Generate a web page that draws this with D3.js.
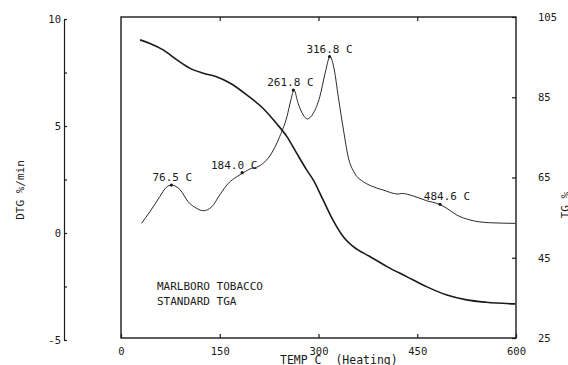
<!DOCTYPE html>
<html lang="en">
<head>
<meta charset="utf-8">
<title>Marlboro tobacco TGA</title>
<script src="https://cdn.jsdelivr.net/npm/d3@7"></script>
<style>
  body { margin: 0; background: #fff; }
  text { font-family: "DejaVu Sans Mono", monospace; fill: #1a1a1a; }
</style>
</head>
<body>
<div id="chart"></div>
<script>
// DTG curve (thin line), temperature in C and rate in %/min
var dtgTemp = [31, 44, 59, 69, 77, 90, 102, 115, 125, 138, 150, 163, 176, 186, 198, 206, 216, 226,
               241, 252, 258, 262.8, 269, 277, 283, 292, 302, 310, 317.5, 324, 330, 338, 345, 355,
               368, 380, 398, 421, 426, 444, 464, 483.5, 495, 510, 530, 560, 599];
var dtgVal  = [0.45, 1.0, 1.7, 2.14, 2.24, 2.01, 1.46, 1.15, 1.04, 1.23, 1.78, 2.32, 2.63, 2.82, 3.02, 3.07, 3.26, 3.6,
               4.5, 5.43, 6.21, 6.68, 6.06, 5.51, 5.33, 5.59, 6.37, 7.46, 8.24, 7.62, 6.37, 4.81, 3.57, 2.79,
               2.4, 2.2, 2.01, 1.82, 1.85, 1.73, 1.51, 1.34, 1.15, 0.84, 0.61, 0.48, 0.45];

// TG curve (thick line), weight %
var tgTemp = [29, 44, 64, 85, 105, 125, 145, 166, 191, 216, 236, 252, 267, 282, 292, 307, 322,
              338, 353, 378, 404, 434, 464, 495, 525, 555, 599];
var tgVal  = [99.3, 98.4, 96.8, 94.3, 92.2, 91.0, 90.1, 88.5, 85.6, 82.2, 78.5, 75.2, 71.0, 66.9, 64.4, 59.4, 54.4,
              50.2, 47.75, 45.3, 42.8, 40.3, 37.8, 35.7, 34.5, 33.9, 33.5];

// marked peaks on the DTG curve
var peakTemp  = [76.5, 184.0, 261.8, 316.8, 484.6];
var peakVal   = [2.24, 2.82, 6.68, 8.24, 1.34];
var peakLabel = ["76.5 C", "184.0 C", "261.8 C", "316.8 C", "484.6 C"];

var xTicks   = [0, 150, 300, 450, 600];
var dtgTicks = [-5, -2.5, 0, 2.5, 5, 7.5, 10];
var tgTicks  = [25, 45, 65, 85, 105];
var notes    = ["MARLBORO TOBACCO", "STANDARD TGA"];

var w = 568, h = 365;
var boxLeft = 121, boxRight = 516, boxTop = 17, boxBottom = 338;

var svg = d3.select("#chart").append("svg")
    .attr("width", w)
    .attr("height", h);

var x = d3.scaleLinear().domain([0, 600]).range([boxLeft, boxRight]);
var yDtg = d3.scaleLinear().domain([-5, 10]).range([340, 19]);
var yTg = d3.scaleLinear().domain([25, 105]).range([boxBottom, boxTop]);

var ink = "#1a1a1a";

// frame
svg.append("rect")
    .attr("x", boxLeft).attr("y", boxTop)
    .attr("width", boxRight - boxLeft).attr("height", boxBottom - boxTop)
    .attr("fill", "none").attr("stroke", ink).attr("stroke-width", 1.4);

// bottom axis
var gx = svg.append("g")
    .attr("transform", "translate(0," + boxBottom + ")")
    .call(d3.axisBottom(x).tickValues(xTicks).tickSize(-4).tickPadding(10));
gx.select(".domain").remove();
gx.selectAll("text").attr("font-size", "10.5px").attr("font-family", "DejaVu Sans Mono");

// top ticks
var gt = svg.append("g")
    .attr("transform", "translate(0," + boxTop + ")")
    .call(d3.axisTop(x).tickValues([150, 300, 450]).tickSize(-4).tickFormat(""));
gt.select(".domain").remove();

// right TG axis
var gr = svg.append("g")
    .attr("transform", "translate(" + boxRight + ",0)")
    .call(d3.axisRight(yTg).tickValues(tgTicks).tickSize(-4).tickPadding(22));
gr.select(".domain").remove();
gr.selectAll("text").attr("font-size", "10.5px").attr("font-family", "DejaVu Sans Mono");

// left DTG axis, detached from the frame
var gl = svg.append("g")
    .attr("transform", "translate(64,0)")
    .call(d3.axisLeft(yDtg).tickValues(dtgTicks).tickSize(-3).tickSizeOuter(0).tickPadding(3)
        .tickFormat(function(d) { return d % 5 === 0 ? d : ""; }));
gl.selectAll("text").attr("font-size", "10.5px").attr("font-family", "DejaVu Sans Mono");

svg.selectAll(".tick line, .domain").attr("stroke", ink).attr("stroke-width", 1.2);

// axis titles
svg.append("text")
    .attr("transform", "translate(24,190) rotate(-90)")
    .attr("text-anchor", "middle")
    .attr("font-size", "11px")
    .text("DTG %/min");

svg.append("text")
    .attr("transform", "translate(569,205) rotate(-90)")
    .attr("text-anchor", "middle")
    .attr("font-size", "11px")
    .text("TG %");

svg.append("text")
    .attr("x", 280).attr("y", 364)
    .attr("font-size", "11.5px")
    .attr("xml:space", "preserve")
    .text("TEMP C  (Heating)");

// curves
var dtgLine = d3.line()
    .x(function(d) { return x(d[0]); })
    .y(function(d) { return yDtg(d[1]); })
    .curve(d3.curveMonotoneX);

var tgLine = d3.line()
    .x(function(d) { return x(d[0]); })
    .y(function(d) { return yTg(d[1]); })
    .curve(d3.curveMonotoneX);

svg.append("path")
    .datum(d3.zip(dtgTemp, dtgVal))
    .attr("d", dtgLine)
    .attr("fill", "none").attr("stroke", "#2a2a2a").attr("stroke-width", 1);

svg.append("path")
    .datum(d3.zip(tgTemp, tgVal))
    .attr("d", tgLine)
    .attr("fill", "none").attr("stroke", ink).attr("stroke-width", 1.6);

// peak markers and labels
var labelShift = [1, -8, -3, 0, 7];
var peaks = svg.selectAll(".peak")
    .data(d3.range(peakTemp.length))
    .enter().append("g");

peaks.append("circle")
    .attr("cx", function(i) { return x(peakTemp[i]); })
    .attr("cy", function(i) { return yDtg(peakVal[i]); })
    .attr("r", 1.6)
    .attr("fill", ink);

peaks.append("text")
    .attr("x", function(i) { return x(peakTemp[i]) + labelShift[i]; })
    .attr("y", function(i) { return yDtg(peakVal[i]) - 4; })
    .attr("text-anchor", "middle")
    .attr("font-size", "11px")
    .text(function(i) { return peakLabel[i]; });

svg.selectAll(".note")
    .data(notes)
    .enter().append("text")
    .attr("x", 157)
    .attr("y", function(d, i) { return 290 + i * 15; })
    .attr("font-size", "11px")
    .text(function(d) { return d; });
</script>
</body>
</html>
